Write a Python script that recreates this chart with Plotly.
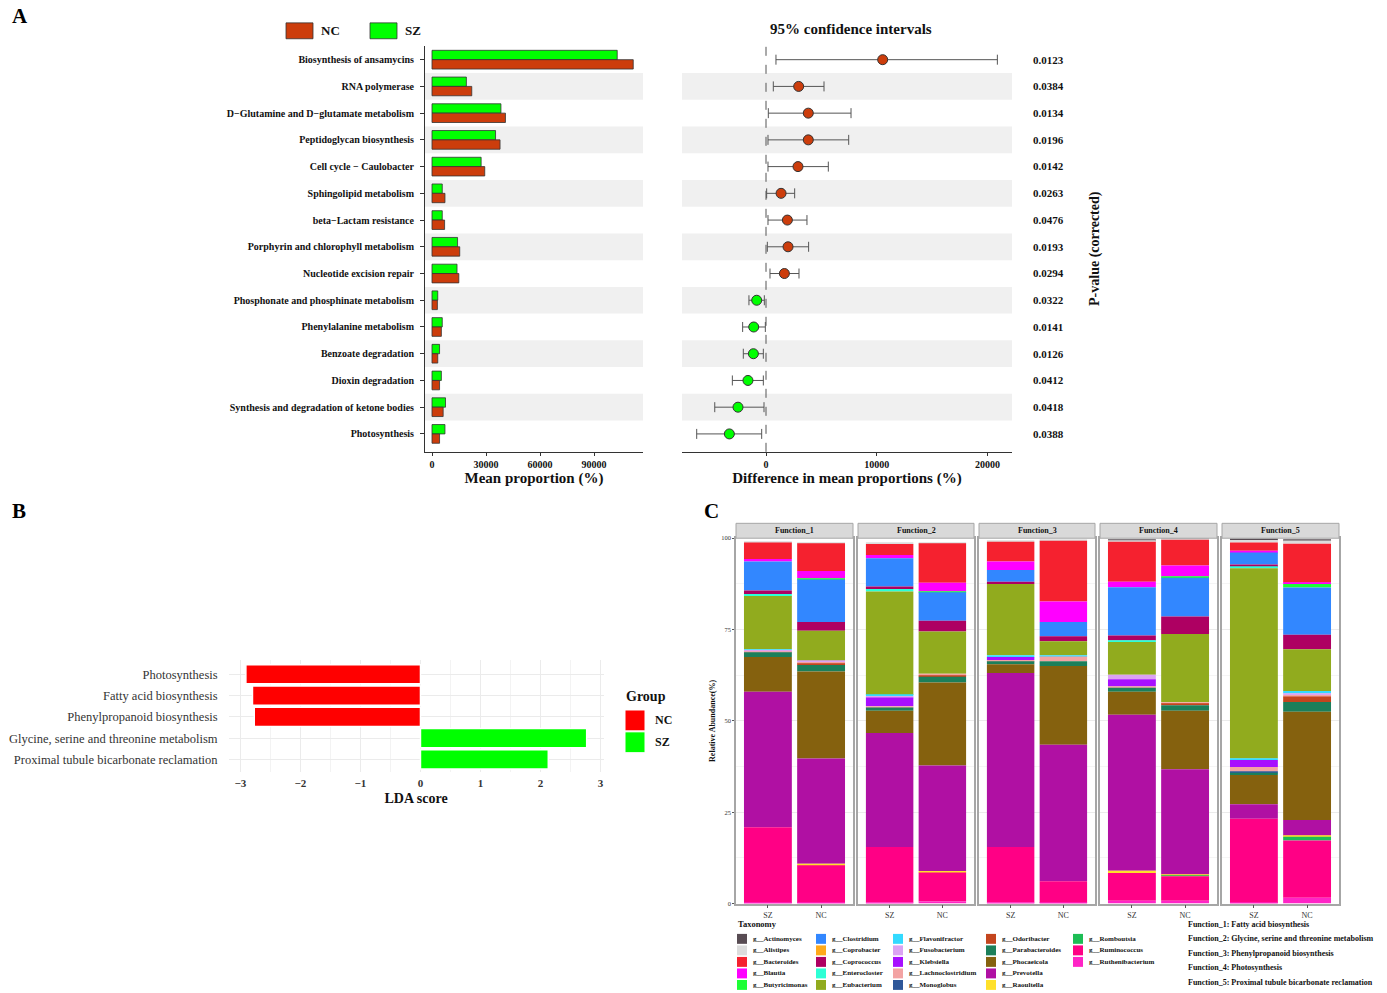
import numpy as np
import plotly.graph_objects as go

W, H = 1387, 993
def X(px): return px / W
def Y(py): return 1 - py / H

SERIF = "Liberation Serif"
NC_COL = "#CC3D0C"
SZ_COL = "#00FF00"

# ---------------- Panel A data ----------------
pathways = [
    "Biosynthesis of ansamycins", "RNA polymerase", "D\u2212Glutamine and D\u2212glutamate metabolism",
    "Peptidoglycan biosynthesis", "Cell cycle \u2212 Caulobacter", "Sphingolipid metabolism",
    "beta\u2212Lactam resistance", "Porphyrin and chlorophyll metabolism", "Nucleotide excision repair",
    "Phosphonate and phosphinate metabolism", "Phenylalanine metabolism", "Benzoate degradation",
    "Dioxin degradation", "Synthesis and degradation of ketone bodies", "Photosynthesis",
]
sz_mean = [102900, 19100, 38300, 35300, 27300, 5700, 5700, 14200, 13900, 3200, 5700, 4200, 5200, 7500, 7200]
nc_mean = [111800, 22100, 40800, 37800, 29300, 7200, 7000, 15400, 14900, 3000, 5200, 3200, 4200, 6200, 4200]
diff_mean = [10540, 2950, 3820, 3820, 2890, 1360, 1930, 1990, 1660, -840, -1110, -1140, -1630, -2530, -3310]
ci_low = [900, 660, 210, 180, 180, 60, 180, 120, 360, -1540, -2110, -2050, -3040, -4630, -6260]
ci_high = [20900, 5240, 7680, 7470, 5630, 2590, 3700, 3850, 2980, -150, -60, -240, -240, -180, -390]
p_values = ["0.0123", "0.0384", "0.0134", "0.0196", "0.0142", "0.0263", "0.0476", "0.0193",
            "0.0294", "0.0322", "0.0141", "0.0126", "0.0412", "0.0418", "0.0388"]

# ---------------- Panel B data ----------------
lda_paths = ["Photosynthesis", "Fatty acid biosynthesis", "Phenylpropanoid biosynthesis",
             "Glycine, serine and threonine metabolism", "Proximal tubule bicarbonate reclamation"]
lda_scores = [-2.91, -2.80, -2.77, 2.77, 2.13]
lda_groups = ["NC", "NC", "NC", "SZ", "SZ"]

# ---------------- Panel C data ----------------
taxa = ["g__Actinomyces", "g__Alistipes", "g__Bacteroides", "g__Blautia", "g__Butyricimonas",
        "g__Clostridium", "g__Coprobacter", "g__Coprococcus", "g__Enterocloster", "g__Eubacterium",
        "g__Flavonifractor", "g__Fusobacterium", "g__Klebsiella", "g__Lachnoclostridium", "g__Monoglobus",
        "g__Odoribacter", "g__Parabacteroides", "g__Phocaeicola", "g__Prevotella", "g__Raoultella",
        "g__Romboutsia", "g__Ruminococcus", "g__Ruthenibacterium"]
taxa_colors = ["#584C53", "#DCDCDC", "#F5212F", "#FF00FF", "#1DFF35",
               "#3287FF", "#FFA91A", "#AE0062", "#2DFFD5", "#91AB1E",
               "#33DAFF", "#DBA2F3", "#A70FFF", "#F3A3A3", "#2F5799",
               "#C4451E", "#1C7F5A", "#85610E", "#B010A3", "#FFE02A",
               "#1DBD55", "#FF0085", "#FF24C6"]
groups_c = ["SZ", "NC"]
functions = ["Function_1", "Function_2", "Function_3", "Function_4", "Function_5"]
f1_sz = [0, 0.3, 4.5, 0.7, 0, 7.9, 0, 1.0, 0.5, 14.6, 0.2, 0.4, 0, 0.2, 0, 0, 1.3, 9.5, 37.1, 0, 0, 20.7, 0.2]
f1_nc = [0, 0.3, 7.6, 2.0, 0.3, 11.6, 0, 2.4, 0, 8.3, 0, 0.3, 0, 0.4, 0, 0.4, 1.8, 23.8, 28.8, 0.4, 0, 10.3, 0.2]
f2_sz = [0, 0.3, 3.0, 0.9, 0, 7.7, 0, 0.7, 0.7, 28.3, 0.3, 0.4, 2.4, 0.3, 0, 0, 0.9, 6.1, 31.2, 0, 0, 15.2, 0.3]
f2_nc = [0, 0.3, 10.8, 2.4, 0.2, 7.8, 0, 2.9, 0, 11.6, 0, 0, 0, 0.4, 0, 0.4, 1.6, 22.7, 28.9, 0.4, 0, 7.9, 0.6]
f3_sz = [0, 0.3, 5.4, 2.3, 0, 3.2, 0, 0.6, 0, 19.5, 0.5, 0, 0.8, 0.4, 0, 0, 0.8, 2.4, 47.6, 0, 0, 15.2, 0.3]
f3_nc = [0, 0.2, 16.6, 5.6, 0, 3.9, 0, 1.4, 0, 3.8, 0.4, 0, 0, 1.3, 0, 0, 1.3, 21.5, 37.4, 0, 0, 5.9, 0.2]
f4_sz = [0.2, 0.3, 10.9, 1.5, 0, 13.2, 0, 1.4, 0.4, 9.0, 0, 1.2, 2.0, 0.3, 0, 0, 1.1, 6.3, 42.7, 0.6, 0, 7.6, 0.8]
f4_nc = [0.2, 0.2, 7.1, 3.0, 0.3, 10.6, 0, 4.8, 0, 18.7, 0, 0, 0, 0.4, 0, 0.4, 1.5, 16.0, 28.9, 0.2, 0.2, 6.7, 0.8]
f5_sz = [0.3, 0.7, 2.2, 0.5, 0, 3.3, 0, 0.5, 0.5, 52.1, 0.4, 0, 1.9, 1.3, 0.3, 0, 0.6, 8.0, 4.0, 0, 0, 23.0, 0.2]
f5_nc = [0.3, 0.9, 10.7, 0.3, 1.0, 12.9, 0, 4.0, 0, 11.4, 0.7, 0.4, 0, 0.4, 0, 1.5, 2.7, 29.6, 4.3, 0.3, 1.0, 15.7, 1.6]
function_desc = ["Function_1: Fatty acid biosynthesis",
                 "Function_2: Glycine, serine and threonine metabolism",
                 "Function_3: Phenylpropanoid biosynthesis",
                 "Function_4: Photosynthesis",
                 "Function_5: Proximal tubule bicarbonate reclamation"]

fig = go.Figure()
shapes = []
annotations = []

def font(size, bold=True, color="#111"):
    return dict(family=SERIF, size=size, color=color, weight="bold" if bold else "normal")

# ---------------- Panel A: mean proportion bars ----------------
fig.add_trace(go.Bar(y=pathways, x=sz_mean, orientation="h", xaxis="x", yaxis="y",
                     offset=-0.35, width=0.35, name="SZ", showlegend=False,
                     marker=dict(color=SZ_COL, line=dict(color="#333", width=0.8))))
fig.add_trace(go.Bar(y=pathways, x=nc_mean, orientation="h", xaxis="x", yaxis="y",
                     offset=0, width=0.35, name="NC", showlegend=False,
                     marker=dict(color=NC_COL, line=dict(color="#333", width=0.8))))

# ---------------- Panel A: confidence intervals ----------------
d = np.array(diff_mean, float)
lo = np.array(ci_low, float)
hi = np.array(ci_high, float)
fig.add_trace(go.Scatter(
    x=d, y=list(range(len(pathways))), mode="markers", xaxis="x2", yaxis="y2", showlegend=False,
    marker=dict(size=10, color=[NC_COL if v > 0 else SZ_COL for v in d], line=dict(color="#333", width=1)),
    error_x=dict(type="data", symmetric=False, array=hi - d, arrayminus=d - lo,
                 color="#555", thickness=1, width=5)))

# stripes
for i in range(len(pathways)):
    if i % 2 == 1:
        shapes.append(dict(type="rect", xref="x domain", yref="y", x0=0, x1=1,
                           y0=i - 0.5, y1=i + 0.5, fillcolor="#F0F0F0", line=dict(width=0), layer="below"))
        shapes.append(dict(type="rect", xref="x2 domain", yref="y2", x0=0, x1=1,
                           y0=i - 0.5, y1=i + 0.5, fillcolor="#F0F0F0", line=dict(width=0), layer="below"))
shapes.append(dict(type="line", xref="x2", yref="y2 domain", x0=0, x1=0, y0=0, y1=1,
                   line=dict(color="#555", width=1, dash="dash")))

# legend A
for x0, col, lab in [(286, NC_COL, "NC"), (370, SZ_COL, "SZ")]:
    shapes.append(dict(type="rect", xref="paper", yref="paper", x0=X(x0), x1=X(x0 + 27),
                       y0=Y(35), y1=Y(19), fillcolor=col, line=dict(color="#333", width=0.8)))
    annotations.append(dict(xref="paper", yref="paper", x=X(x0 + 33), y=Y(27), text=lab,
                            showarrow=False, xanchor="left", yanchor="middle", font=font(13)))
annotations.append(dict(xref="paper", yref="paper", x=X(851), y=Y(25), text="95% confidence intervals",
                        showarrow=False, xanchor="center", yanchor="middle", font=font(15)))

# ---------------- Panel B: LDA ----------------
for g, col in [("NC", "#FF0000"), ("SZ", "#00FF00")]:
    ys = [p for p, gg in zip(lda_paths, lda_groups) if gg == g]
    xs = [s for s, gg in zip(lda_scores, lda_groups) if gg == g]
    fig.add_trace(go.Bar(y=ys, x=xs, orientation="h", xaxis="x3", yaxis="y3", width=0.9,
                         name=g, showlegend=False,
                         marker=dict(color=col, line=dict(color="white", width=1.5))))
annotations.append(dict(xref="paper", yref="paper", x=X(624), y=Y(697), text="Group",
                        showarrow=False, xanchor="left", yanchor="middle", font=font(14)))
for y0, col, lab in [(711, "#FF0000", "NC"), (733, "#00FF00", "SZ")]:
    shapes.append(dict(type="rect", xref="paper", yref="paper", x0=X(625), x1=X(645),
                       y0=Y(y0 + 21), y1=Y(y0), fillcolor=col, line=dict(color="white", width=1)))
    annotations.append(dict(xref="paper", yref="paper", x=X(653), y=Y(y0 + 10.5), text=lab,
                            showarrow=False, xanchor="left", yanchor="middle", font=font(12)))

# ---------------- Panel C: stacked bars ----------------
facet_px = [(736, 853), (858, 974), (979, 1095), (1100, 1217), (1222, 1339)]
facet_data = [(f1_sz, f1_nc), (f2_sz, f2_nc), (f3_sz, f3_nc), (f4_sz, f4_nc), (f5_sz, f5_nc)]
for k, (fname, (sz, nc)) in enumerate(zip(functions, facet_data)):
    vals = np.array([sz, nc], float).T  # taxa x groups
    # alphabetical first level on top -> stack from last level upward
    rev = vals[::-1]
    bases_rev = np.vstack([np.zeros(2), np.cumsum(rev, axis=0)[:-1]])
    bases = bases_rev[::-1]
    xa = "x%d" % (k + 4)
    ya = "y%d" % (k + 4)
    for t in range(len(taxa)):
        fig.add_trace(go.Bar(x=groups_c, y=vals[t], base=bases[t], xaxis=xa, yaxis=ya, width=0.9,
                             name=taxa[t], showlegend=False,
                             marker=dict(color=taxa_colors[t], line=dict(width=0))))
    x0, x1 = facet_px[k]
    shapes.append(dict(type="rect", xref="paper", yref="paper", x0=X(x0), x1=X(x1), y0=Y(538), y1=Y(523),
                       fillcolor="#D9D9D9", line=dict(color="#A6A6A6", width=1)))
    annotations.append(dict(xref="paper", yref="paper", x=X((x0 + x1) / 2), y=Y(530.5), text=fname,
                            showarrow=False, xanchor="center", yanchor="middle", font=font(8)))

# legend C
annotations.append(dict(xref="paper", yref="paper", x=X(736), y=Y(927), text="Taxonomy",
                        showarrow=False, xanchor="left", yanchor="middle", font=font(8.5)))
key_x = [737, 816, 893, 986, 1073]
text_x = [751, 830, 907, 1000, 1087]
for i, (tname, col) in enumerate(zip(taxa, taxa_colors)):
    c, r = i // 5, i % 5
    yc = 941.5 + r * 11.6
    shapes.append(dict(type="rect", xref="paper", yref="paper", x0=X(key_x[c]), x1=X(key_x[c] + 10),
                       y0=Y(yc + 5), y1=Y(yc - 5), fillcolor=col, line=dict(width=0)))
    annotations.append(dict(xref="paper", yref="paper", x=X(text_x[c]), y=Y(yc), text=tname,
                            showarrow=False, xanchor="left", yanchor="middle", font=font(7)))
for j, txt in enumerate(function_desc):
    annotations.append(dict(xref="paper", yref="paper", x=X(1186), y=Y(927 + j * 14.5), text=txt,
                            showarrow=False, xanchor="left", yanchor="middle", font=font(8)))

# panel letters
for lab, px, py in [("A", 10, 12), ("B", 10, 511), ("C", 702, 511)]:
    annotations.append(dict(xref="paper", yref="paper", x=X(px), y=Y(py), text=lab, showarrow=False,
                            xanchor="left", yanchor="middle", font=font(21, color="#000")))

# ---------------- Axes ----------------
rowA_range = [14.67, -0.523]
A_TOP, A_BOT = 42, 451
layout_axes = dict(
    xaxis=dict(domain=[X(425), X(643)], anchor="y", range=[(425 - 432) / 54 * 30000, (643 - 432) / 54 * 30000],
               tickvals=[0, 30000, 60000, 90000], tickformat="d", showgrid=False, zeroline=False,
               showline=True, linecolor="#333", linewidth=1, ticks="outside", ticklen=3, tickcolor="#333",
               tickfont=font(10), title=dict(text="Mean proportion (%)", font=font(15), standoff=1)),
    yaxis=dict(domain=[Y(A_BOT), Y(A_TOP)], anchor="x", type="category", categoryarray=pathways,
               range=rowA_range, showgrid=False, zeroline=False, showline=True, linecolor="#333", linewidth=1,
               ticks="outside", ticklen=4, tickcolor="#333", tickfont=font(10), ticklabelstandoff=4),
    xaxis2=dict(domain=[X(682), X(1012)], anchor="y2",
                range=[(682 - 766) / 110.7 * 10000, (1012 - 766) / 110.7 * 10000],
                tickvals=[0, 10000, 20000], tickformat="d", showgrid=False, zeroline=False,
                showline=True, linecolor="#333", linewidth=1, ticks="outside", ticklen=3, tickcolor="#333",
                tickfont=font(10), title=dict(text="Difference in mean proportions (%)", font=font(15), standoff=1)),
    yaxis2=dict(domain=[Y(A_BOT), Y(A_TOP)], anchor="x2", side="right", range=rowA_range,
                tickvals=list(range(len(pathways))), ticktext=p_values, showgrid=False, zeroline=False,
                showline=False, ticks="", tickfont=font(11), ticklabelstandoff=20,
                title=dict(text="P-value (corrected)", font=font(14), standoff=26)),
    xaxis3=dict(domain=[X(228.6), X(603.6)], anchor="y3", range=[-3.198, 3.052], dtick=1,
                showgrid=True, gridcolor="#EBEBEB", gridwidth=1, zeroline=False, showline=False, ticks="",
                minor=dict(dtick=0.5, showgrid=True, gridcolor="#F3F3F3"), ticklabelstandoff=3,
                tickfont=font(11, color="#333"), title=dict(text="LDA score", font=font(14), standoff=5)),
    yaxis3=dict(domain=[Y(773), Y(661)], anchor="x3", type="category", categoryarray=lda_paths,
                range=[4.57, -0.654], showgrid=True, gridcolor="#EBEBEB", zeroline=False, ticks="",
                tickfont=font(12.5, bold=False, color="#333"), ticklabelstandoff=10),
)
for k in range(5):
    xa = "xaxis%d" % (k + 4)
    ya = "yaxis%d" % (k + 4)
    x0, x1 = facet_px[k]
    layout_axes[xa] = dict(domain=[X(x0), X(x1)], anchor="y%d" % (k + 4), type="category",
                           categoryarray=groups_c, range=[-0.6, 1.6], showgrid=False, zeroline=False,
                           showline=True, mirror=True, linecolor="#A6A6A6", linewidth=1.5,
                           ticks="outside", ticklen=3, tickcolor="#555", tickfont=font(8, bold=False, color="#333"))
    layout_axes[ya] = dict(domain=[Y(906), Y(538)], anchor="x%d" % (k + 4), range=[0, 100],
                           tickvals=[0, 25, 50, 75, 100], showgrid=True, gridcolor="#EBEBEB",
                           minor=dict(dtick=12.5, showgrid=True, gridcolor="#F5F5F5"),
                           zeroline=False, showline=True, mirror=True, linecolor="#A6A6A6", linewidth=1.5,
                           ticks="outside" if k == 0 else "", ticklen=2, tickcolor="#555",
                           showticklabels=(k == 0), tickfont=font(6.5, bold=False, color="#333"))
layout_axes["yaxis4"]["title"] = dict(text="Relative Abundance(%)", font=font(8), standoff=4)

fig.update_layout(
    width=W, height=H, margin=dict(l=0, r=0, t=0, b=0),
    paper_bgcolor="white", plot_bgcolor="white", barmode="overlay",
    showlegend=False, shapes=shapes, annotations=annotations,
    font=dict(family=SERIF),
    **layout_axes,
)
fig.write_html("out.html")
